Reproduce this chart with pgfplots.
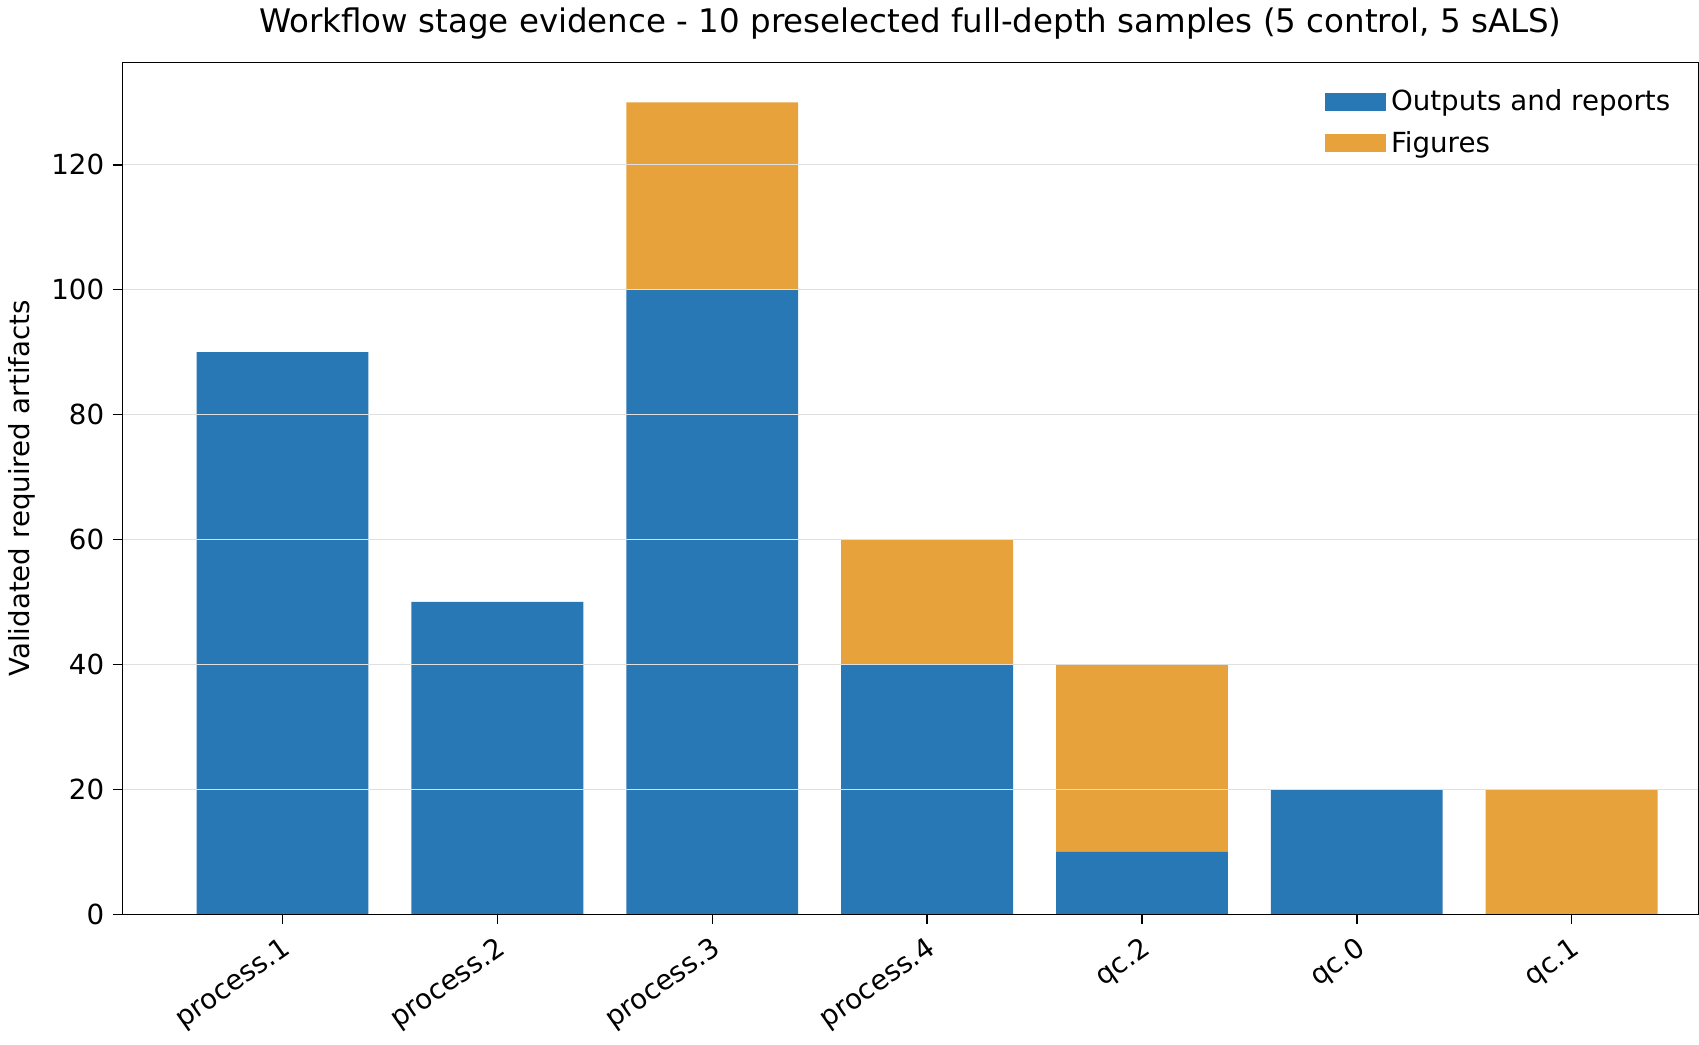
\documentclass[border=0pt]{standalone}
\usepackage{fontspec}
\setmainfont{DejaVu Sans}
\usepackage{pgfplots}
\pgfplotsset{compat=1.18}
\definecolor{cblue}{HTML}{2878B5}
\definecolor{corange}{HTML}{E8A23B}
\begin{document}
\begin{tikzpicture}
\begin{axis}[
  width=655pt, height=354pt, scale only axis,
  ybar stacked, bar width=0.8,
  xmin=-0.746, xmax=6.59, ymin=0, ymax=136.4,
  xtick={0,...,6},
  xticklabels={process.1,process.2,process.3,process.4,qc.2,qc.0,qc.1},
  xticklabel style={rotate=35, anchor=north east, font=\fontsize{11.5}{13}\selectfont},
  yticklabel style={font=\fontsize{11.5}{13}\selectfont},
  ytick={0,20,...,120},
  /pgf/number format/assume math mode=true,
  ymajorgrids, grid style={gray!25, line width=0.5pt},
  axis on top,
  tick align=outside, tick pos=left, major tick length=4pt,
  tick style={black, line width=0.6pt},
  ylabel={Validated required artifacts},
  ylabel style={font=\fontsize{11.5}{13}\selectfont},
  title={Workflow stage evidence - 10 preselected full-depth samples (5 control, 5 sALS)},
  title style={font=\fontsize{13.5}{15}\selectfont},
  legend cell align=left,
  legend style={draw=none, fill=none, at={(0.99,0.98)}, anchor=north east, font=\fontsize{11.5}{13}\selectfont, row sep=3pt},
  legend image code/.code={\draw[#1, draw=none] (0cm,-0.13cm) rectangle (0.9cm,0.13cm);},
]
\addplot[fill=cblue, draw=none] coordinates {(0,90) (1,50) (2,100) (3,40) (4,10) (5,20) (6,0)};
\addplot[fill=corange, draw=none] coordinates {(0,0) (1,0) (2,30) (3,20) (4,30) (5,0) (6,20)};
\legend{Outputs and reports, Figures}
\end{axis}
\end{tikzpicture}
\end{document}
